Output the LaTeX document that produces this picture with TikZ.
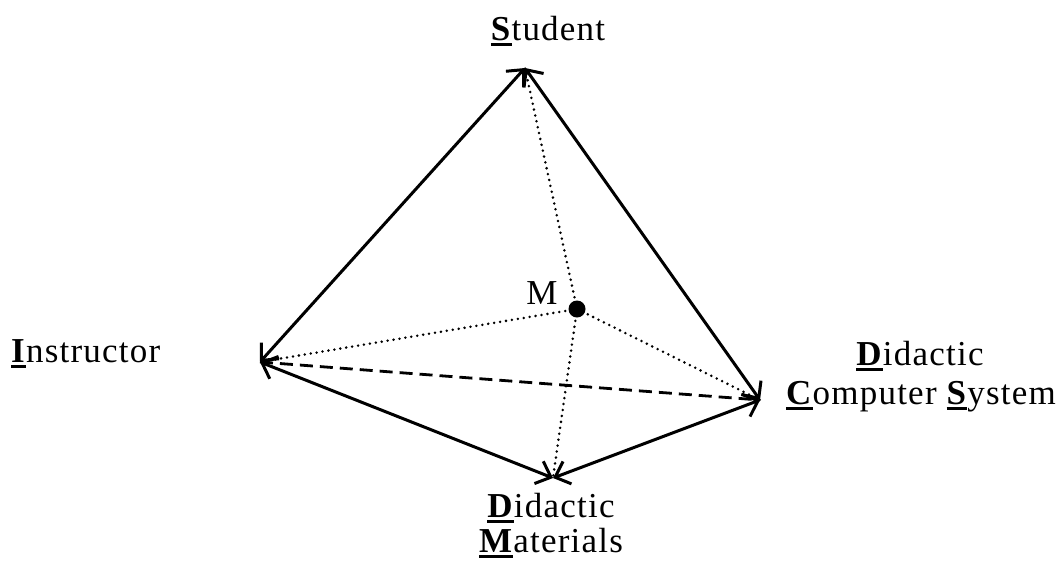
\documentclass[tikz,border=0pt]{standalone}
\usepackage{fontspec}
\setmainfont[LetterSpace=3.5]{Liberation Serif}
\usetikzlibrary{arrows.meta}
\newcommand\ulb[1]{\mbox{\sbox0{\textbf{#1}}\rlap{\rule[-6pt]{\wd0}{3.2pt}}\usebox0}}
\tikzset{
  lbl/.style={inner sep=0pt, font=\fontsize{35}{40}\selectfont},
  edge/.style={line width=3pt, {Straight Barb[length=13pt,width=24pt]}-{Straight Barb[length=13pt,width=24pt]}},
  dotline/.style={line width=2.8pt, dash pattern=on 0pt off 6pt, line cap=round},
  dashline/.style={line width=2.8pt, dash pattern=on 13pt off 7pt},
}
\begin{document}
\begin{tikzpicture}[x=1pt,y=-1pt]
\useasboundingbox (0,0) rectangle (1059,563);
\coordinate (S) at (525,68);
\coordinate (I) at (260,362);
\coordinate (C) at (760,400);
\coordinate (D) at (553,478);
\coordinate (Mc) at (577,309);
% labels
\node[lbl, anchor=base] (ls) at (548,40) {\ulb{S}tudent};
\node[lbl, anchor=base west] (li) at (11,362) {\ulb{I}nstructor};
\node[lbl, anchor=base] (lc1) at (920,365) {\ulb{D}idactic};
\node[lbl, anchor=base] (lc2) at (921,404) {\ulb{C}omputer \ulb{S}ystem};
\node[lbl, anchor=base] (ld1) at (551,517) {\ulb{D}idactic};
\node[lbl, anchor=base] (ld2) at (551,552) {\ulb{M}aterials};
\node[lbl, anchor=base] (lm) at (542,304) {M};
% dotted
\draw[dotline] (Mc) -- (S);
\draw[dotline] (Mc) -- (I);
\draw[dotline] (Mc) -- (C);
\draw[dotline] (Mc) -- (D);
% dashed
\draw[dashline] (I) -- (C);
% solid
\draw[edge] (I) -- (S);
\draw[edge] (S) -- (C);
\draw[edge] (I) -- (D);
\draw[edge] (D) -- (C);
\node[circle, fill=black, inner sep=0pt, minimum size=17pt] (M) at (Mc) {};
\end{tikzpicture}
\end{document}
